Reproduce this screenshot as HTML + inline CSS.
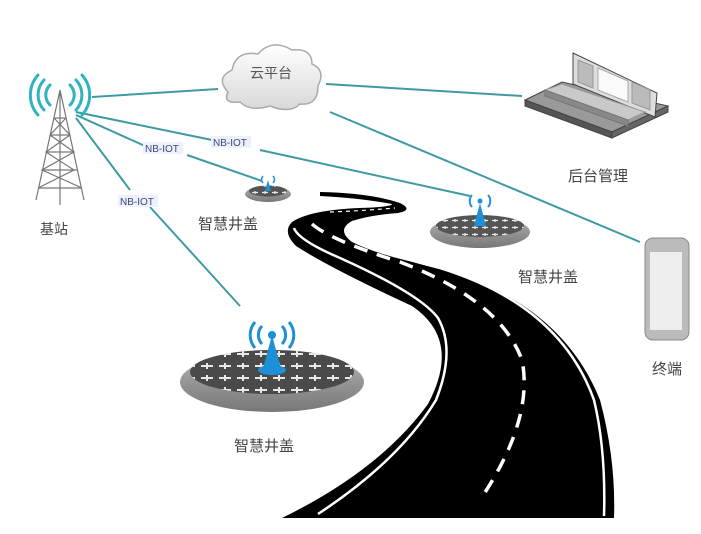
<!DOCTYPE html>
<html><head><meta charset="utf-8"><style>
html,body{margin:0;padding:0;background:#fff}
svg{display:block}
text{font-family:"Liberation Sans","Noto Sans CJK SC",sans-serif}
</style></head><body>
<svg width="701" height="534" viewBox="0 0 701 534" xmlns="http://www.w3.org/2000/svg">
<defs>
<linearGradient id="cl" x1="0" y1="0" x2="0" y2="1"><stop offset="0" stop-color="#fff"/><stop offset="1" stop-color="#d8d8d8"/></linearGradient>
<linearGradient id="rim" x1="0" y1="0" x2="0" y2="1"><stop offset="0" stop-color="#b5b5b5"/><stop offset="1" stop-color="#777"/></linearGradient>
<pattern id="cr" width="18" height="12" patternUnits="userSpaceOnUse"><path d="M3 6h12M9 3v6" stroke="#e8e8e8" stroke-width="2"/></pattern>
<pattern id="crs" width="10" height="7" patternUnits="userSpaceOnUse"><path d="M2 3.5h6M5 2v3" stroke="#e8e8e8" stroke-width="1.2"/></pattern>
</defs>
<!-- connectors -->
<g stroke="#3f9aa3" stroke-width="2" fill="none">
<line x1="92" y1="97" x2="218" y2="89"/>
<line x1="326" y1="84" x2="522" y2="96"/>
<line x1="330" y1="112" x2="640" y2="242"/>
<line x1="76" y1="112" x2="212" y2="140"/>
<line x1="260" y1="150" x2="470" y2="196"/>
<line x1="76" y1="115" x2="145" y2="146"/>
<line x1="187" y1="155" x2="262" y2="181"/>
<line x1="76" y1="118" x2="130" y2="190"/>
<line x1="150" y1="207" x2="240" y2="306"/>
</g>
<g font-size="10" fill="#3b4a7a">
<rect x="143" y="142" width="40" height="12" fill="#eef0fb"/><text x="145" y="152">NB-IOT</text>
<rect x="211" y="136" width="40" height="12" fill="#eef0fb"/><text x="213" y="146">NB-IOT</text>
<rect x="118" y="195" width="40" height="12" fill="#eef0fb"/><text x="120" y="205">NB-IOT</text>
</g>
<!-- tower -->
<g stroke="#777" stroke-width="1.2" fill="none">
<path d="M60 90 L36 200 M60 90 L84 200 M60 90 L60 205"/>
<path d="M54 118h12M50 135h20M46 152h28M42 170h36M38 188h44"/>
<path d="M54 118L70 135L46 152L74 170L38 188M66 118L50 135L74 152L42 170L82 188"/>
</g>
<g stroke="#2fb3c0" stroke-width="3" fill="none" stroke-linecap="round">
<path d="M50 85a14 14 0 0 0 0 20M44 80a22 22 0 0 0 0 30M38 75a30 30 0 0 0 0 40"/>
<path d="M70 85a14 14 0 0 1 0 20M76 80a22 22 0 0 1 0 30M82 75a30 30 0 0 1 0 40"/>
</g>
<text x="40" y="234" font-size="14" fill="#444">基站</text>
<!-- cloud -->
<path d="M228 92 Q215 78 232 70 Q236 50 258 54 Q272 38 292 50 Q312 48 312 64 Q326 70 318 86 Q318 106 300 104 Q290 114 270 106 Q250 112 240 102 Q222 104 228 92Z" fill="url(#cl)" stroke="#aaa" stroke-width="1.5"/>
<text x="250" y="78" font-size="14" fill="#555">云平台</text>
<!-- building -->
<g stroke="#444" stroke-width="1">
<path d="M525 100 L562 82 L668 106 L612 132Z" fill="#9a9a9a"/>
<path d="M525 100 L612 132 L612 138 L525 106Z" fill="#555"/>
<path d="M612 132 L668 106 L668 112 L612 138Z" fill="#666"/>
<path d="M573 53 L657 93 L655 117 L573 84Z" fill="#ddd"/>
<path d="M578 60 L593 66 L593 88 L578 82Z M632 82 L650 90 L650 110 L632 103Z" fill="#bbb" stroke="#999"/>
<path d="M598 68 L628 81 L628 102 L598 90Z" fill="#fafafa" stroke="#aaa"/>
<path d="M545 90 L562 84 L645 112 L628 120Z" fill="#c9c9c9" stroke="#999"/>
<path d="M545 90 L628 120 L628 126 L545 96Z" fill="#888" stroke="#777"/>
</g>
<text x="568" y="181" font-size="15" fill="#444">后台管理</text>
<!-- phone -->
<rect x="645" y="238" width="44" height="102" rx="8" fill="#bbb" stroke="#888"/>
<rect x="650" y="252" width="32" height="78" fill="#eee"/>
<text x="652" y="374" font-size="15" fill="#444">终端</text>
<!-- road -->
<path d="M320 192 Q370 193 400 203 Q414 210 398 213 Q370 215 352 221 Q336 230 352 242 Q380 256 432 266 Q560 300 600 400 Q616 460 614 518 L282 518 Q380 470 428 404 Q462 340 412 306 Q330 268 296 246 Q282 232 292 222 Q310 210 360 208 Q392 207 392 204 Q360 198 320 196Z" fill="#000"/>
<g fill="none" stroke="#fff" stroke-width="2.5">
<path d="M294 228 Q298 240 340 258 Q420 294 438 318 Q456 350 436 400 Q400 460 318 514"/>
<path d="M346 230 Q352 246 440 268 Q560 305 594 400 Q606 450 604 516"/>
<path d="M312 224 Q330 240 400 262 Q500 300 522 360 Q534 420 480 500" stroke-dasharray="14 10" stroke-width="3.5"/>
<path d="M330 212 Q360 211 395 208" stroke-dasharray="4 4" stroke-width="1.2"/>
</g>
<!-- manhole 1 -->
<ellipse cx="268" cy="194" rx="23" ry="8" fill="url(#rim)"/>
<ellipse cx="268" cy="191" rx="19" ry="5.5" fill="#555"/>
<ellipse cx="268" cy="191" rx="19" ry="5.5" fill="url(#crs)"/>
<path d="M268 180 L265 191 L271 191Z" fill="#1e90d6"/>
<g stroke="#1e90d6" stroke-width="1.5" fill="none"><path d="M263 176a5 5 0 0 0 0 7M273 176a5 5 0 0 1 0 7"/></g>
<text x="198" y="229" font-size="15" fill="#444">智慧井盖</text>
<!-- manhole 2 -->
<ellipse cx="480" cy="232" rx="50" ry="16" fill="url(#rim)"/>
<ellipse cx="480" cy="226" rx="44" ry="11" fill="#555"/>
<ellipse cx="480" cy="226" rx="44" ry="11" fill="url(#crs)"/>
<path d="M480 203 L474 226 L486 226Z" fill="#1e90d6"/>
<g stroke="#1e90d6" stroke-width="2" fill="none"><path d="M472 195a9 9 0 0 0 0 12M488 195a9 9 0 0 1 0 12"/></g>
<circle cx="480" cy="201" r="2.5" fill="#1e90d6"/>
<text x="518" y="282" font-size="15" fill="#444">智慧井盖</text>
<!-- manhole 3 -->
<ellipse cx="272" cy="382" rx="92" ry="30" fill="url(#rim)"/>
<ellipse cx="272" cy="372" rx="82" ry="22" fill="#4a4a4a"/>
<ellipse cx="272" cy="372" rx="82" ry="22" fill="url(#cr)"/>
<path d="M272 335 L262 372 L282 372Z" fill="#1e90d6"/>
<ellipse cx="272" cy="370" rx="14" ry="5" fill="#1e90d6"/>
<circle cx="272" cy="335" r="4" fill="#1e90d6"/>
<g stroke="#1e90d6" stroke-width="3" fill="none"><path d="M262 326a13 13 0 0 0 0 18M255 322a20 20 0 0 0 0 26M282 326a13 13 0 0 1 0 18M289 322a20 20 0 0 1 0 26"/></g>
<text x="234" y="451" font-size="15" fill="#444">智慧井盖</text>
</svg>
</body></html>
